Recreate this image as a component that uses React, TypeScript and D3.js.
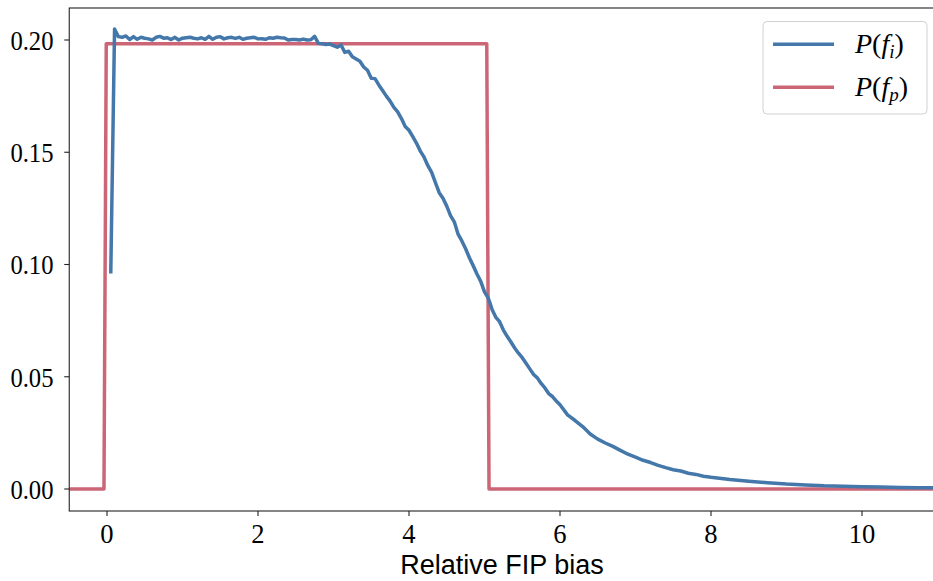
import React from "react";
import * as d3 from "d3";

const W = 933;
const H = 581;

const xTicks = [0, 2, 4, 6, 8, 10];
const yTicks = [0.0, 0.05, 0.1, 0.15, 0.2];
const yTickLabels = ["0.00", "0.05", "0.10", "0.15", "0.20"];
const xLabel = "Relative FIP bias";

// Blue series P(f_i)
const blueX = [
  0.05, 0.1, 0.15, 0.2, 0.25, 0.3, 0.35, 0.4, 0.45, 0.5, 0.55, 0.6, 0.65, 0.7, 0.75, 0.8, 0.85, 0.9, 0.95,
  1.0, 1.05, 1.1, 1.15, 1.2, 1.25, 1.3, 1.35, 1.4, 1.45, 1.5, 1.55, 1.6, 1.65, 1.7, 1.75, 1.8, 1.85, 1.9, 1.95,
  2.0, 2.05, 2.1, 2.15, 2.2, 2.25, 2.3, 2.35, 2.4, 2.45, 2.5, 2.55, 2.6, 2.65, 2.7, 2.75,
  2.8, 2.85, 2.9, 2.95, 3.0, 3.05, 3.1, 3.15, 3.2, 3.25, 3.3, 3.35, 3.4, 3.45, 3.5, 3.55, 3.6, 3.65, 3.7, 3.75,
  3.8, 3.85, 3.9, 3.95, 4.0, 4.05, 4.1, 4.15, 4.2, 4.25, 4.3, 4.35, 4.4, 4.45, 4.5, 4.55, 4.6, 4.65, 4.7, 4.75,
  4.8, 4.85, 4.9, 4.95, 5.0, 5.05, 5.1, 5.15, 5.2, 5.25, 5.3, 5.35, 5.4, 5.45, 5.5, 5.55, 5.6, 5.65, 5.7, 5.75,
  5.8, 5.85, 5.9, 5.95, 6.0, 6.1, 6.2, 6.3, 6.4, 6.5, 6.6, 6.7, 6.8, 6.9, 7.0, 7.1, 7.2, 7.3, 7.4, 7.5, 7.6,
  7.7, 7.8, 7.9, 8.0, 8.25, 8.5, 8.75, 9.0, 9.25, 9.5, 9.75, 10.0, 10.25, 10.5, 10.75, 11.0,
];
const blueY = [
  0.096, 0.2049, 0.2015, 0.2012, 0.2018, 0.2002, 0.2015, 0.2003, 0.2012, 0.2008, 0.2005, 0.2, 0.2012, 0.2016,
  0.2008, 0.201, 0.2002, 0.2012, 0.2, 0.2008, 0.201, 0.2012, 0.2008, 0.2005, 0.201, 0.2003, 0.2016, 0.2003,
  0.2012, 0.2015, 0.2005, 0.201, 0.2012, 0.2007, 0.2012, 0.2003, 0.2008, 0.201, 0.2012, 0.2005, 0.2006,
  0.2003, 0.201, 0.2008, 0.2012, 0.201, 0.2009, 0.2, 0.2002, 0.2002, 0.2, 0.2004, 0.2, 0.2001, 0.2016,
  0.1985, 0.1983, 0.198, 0.1982, 0.1975, 0.1968, 0.1978, 0.1945, 0.195, 0.1925, 0.1915, 0.1905, 0.188, 0.1865,
  0.183, 0.1828, 0.18, 0.1775, 0.175, 0.1728, 0.17, 0.168, 0.165, 0.1615, 0.1598, 0.157, 0.154, 0.1505, 0.1478,
  0.144, 0.141, 0.1365, 0.132, 0.1295, 0.126, 0.1218, 0.119, 0.1135, 0.1105, 0.107, 0.103, 0.0995, 0.0958,
  0.0925, 0.0878, 0.085, 0.08, 0.0765, 0.0745, 0.0708, 0.068, 0.0655, 0.0628, 0.0605, 0.0585, 0.056, 0.0535,
  0.051, 0.0495, 0.047, 0.045, 0.0425, 0.0412, 0.0392, 0.0375, 0.033, 0.0305, 0.0278, 0.0245, 0.0222, 0.0205,
  0.019, 0.0172, 0.0155, 0.0142, 0.0128, 0.0118, 0.0105, 0.0095, 0.0086, 0.008, 0.007, 0.0065, 0.0057, 0.0052,
  0.0042, 0.0035, 0.0028, 0.0022, 0.0018, 0.0014, 0.0012, 0.001, 0.0009, 0.0007, 0.0006, 0.0005,
];

// Red series P(f_p)
const redX = [-0.5, -0.04, -0.01, 5.03, 5.06, 11.0];
const redY = [0, 0, 0.1983, 0.1983, 0, 0];

const BLUE = "#4477AA";
const RED = "#CC6677";

export default function App() {
  const left = 69.25;
  const right = 937.5;
  const top = 8;
  const bottom = 511;
  const x = d3.scaleLinear().domain([-0.5, 11]).range([left, right]);
  const y = d3.scaleLinear().domain([0, 0.2]).range([489, 40]);

  const line = d3
    .line<[number, number]>()
    .x((d) => x(d[0]))
    .y((d) => y(d[1]));

  const blue = line(blueX.map((v, i) => [v, blueY[i]] as [number, number])) || "";
  const red = line(redX.map((v, i) => [v, redY[i]] as [number, number])) || "";

  const serif = "'Liberation Serif', 'DejaVu Serif', serif";
  const sans = "'Liberation Sans', Arial, sans-serif";
  const lw = 3.5;

  return (
    <svg
      width={W}
      height={H}
      style={{ position: "absolute", left: 0, top: 0, background: "#fff" }}
    >
      <defs>
        <clipPath id="plotclip">
          <rect x={left} y={top} width={right - left} height={bottom - top} />
        </clipPath>
      </defs>
      <rect x={0} y={0} width={W} height={H} fill="#fff" />
      <g clipPath="url(#plotclip)">
        <path d={red} fill="none" stroke={RED} strokeWidth={lw} strokeLinejoin="round" />
        <path d={blue} fill="none" stroke={BLUE} strokeWidth={lw} strokeLinejoin="round" />
      </g>
      {/* spines */}
      <rect
        x={left}
        y={top}
        width={right - left}
        height={bottom - top}
        fill="none"
        stroke="#222"
        strokeWidth={1.1}
      />
      {/* y ticks */}
      {yTicks.map((t, i) => (
        <g key={"y" + i}>
          <line x1={left - 5} x2={left} y1={y(t)} y2={y(t)} stroke="#222" strokeWidth={1.1} />
          <text
            transform={`translate(53.5,${y(t) + 9.8}) scale(0.88,1)`}
            textAnchor="end"
            fontFamily={serif}
            fontSize={28}
            fill="#000"
          >
            {yTickLabels[i]}
          </text>
        </g>
      ))}
      {/* x ticks */}
      {xTicks.map((t, i) => (
        <g key={"x" + i}>
          <line x1={x(t)} x2={x(t)} y1={bottom} y2={bottom + 5} stroke="#222" strokeWidth={1.1} />
          <text
            transform={`translate(${x(t)},542.5) scale(0.95,1)`}
            textAnchor="middle"
            fontFamily={serif}
            fontSize={28}
            fill="#000"
          >
            {String(t)}
          </text>
        </g>
      ))}
      <text
        x={502}
        y={574}
        textAnchor="middle"
        fontFamily={sans}
        fontSize={27}
        fill="#000"
      >
        {xLabel}
      </text>
      {/* legend */}
      <rect
        x={763}
        y={21.5}
        width={164}
        height={92.5}
        rx={4}
        fill="#fff"
        fillOpacity={0.8}
        stroke="#d0d0d0"
        strokeWidth={1}
      />
      <line x1={773} x2={834} y1={44.3} y2={44.3} stroke={BLUE} strokeWidth={lw} />
      <line x1={773} x2={834} y1={87.3} y2={87.3} stroke={RED} strokeWidth={lw} />
      <text x={855} y={53} fontFamily={serif} fontSize={28} fill="#000">
        <tspan fontStyle="italic">P</tspan>
        <tspan>(</tspan>
        <tspan fontStyle="italic">f</tspan>
        <tspan fontStyle="italic" fontSize={19} dy={5}>i</tspan>
        <tspan dy={-5}>)</tspan>
      </text>
      <text x={855} y={96} fontFamily={serif} fontSize={28} fill="#000">
        <tspan fontStyle="italic">P</tspan>
        <tspan>(</tspan>
        <tspan fontStyle="italic">f</tspan>
        <tspan fontStyle="italic" fontSize={19} dy={5}>p</tspan>
        <tspan dy={-5}>)</tspan>
      </text>
    </svg>
  );
}
